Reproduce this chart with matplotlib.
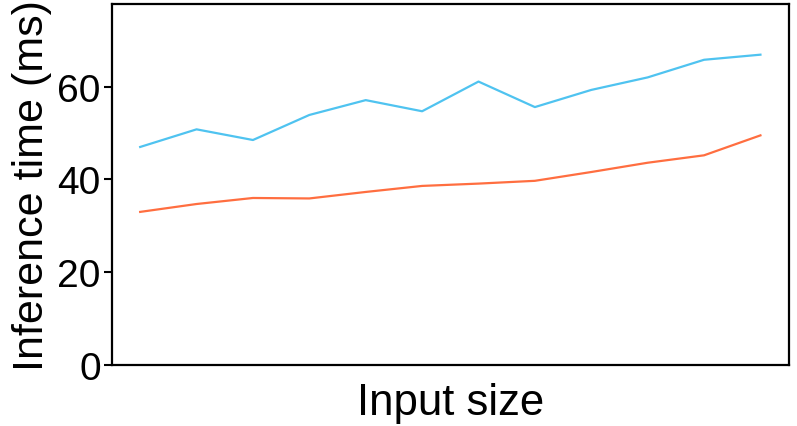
import matplotlib.pyplot as plt

# inference time per input size (ms)
sizes = list(range(1, 13))
slow = [47.0, 50.8, 48.5, 53.9, 57.1, 54.7, 61.1, 55.6, 59.3, 62.0, 65.8, 66.9]
fast = [33.0, 34.7, 36.0, 35.9, 37.3, 38.6, 39.1, 39.7, 41.6, 43.6, 45.2, 49.5]

plt.rcParams['font.family'] = ['Liberation Sans', 'DejaVu Sans']

fig = plt.figure(figsize=(7.97, 4.27), dpi=100)
ax = fig.add_axes([0.1405, 0.143, 0.849, 0.845])

ax.plot(sizes, slow, color="#4fc3f0", lw=1.6)
ax.plot(sizes, fast, color="#ff6e40", lw=1.6)

ax.set_xlim(0.5, 12.5)
ax.set_ylim(0, 77.8)
ax.set_yticks([0, 20, 40, 60])
ax.set_xticks([])
ax.tick_params(axis="y", labelsize=28, length=6, width=1.5, pad=2)
for s in ax.spines.values():
    s.set_linewidth(1.6)

ax.set_xlabel("Input size", fontsize=31.5, labelpad=12)
ax.set_ylabel("Inference time (ms)", fontsize=31, labelpad=4)

fig.savefig("out.png", dpi=100)
